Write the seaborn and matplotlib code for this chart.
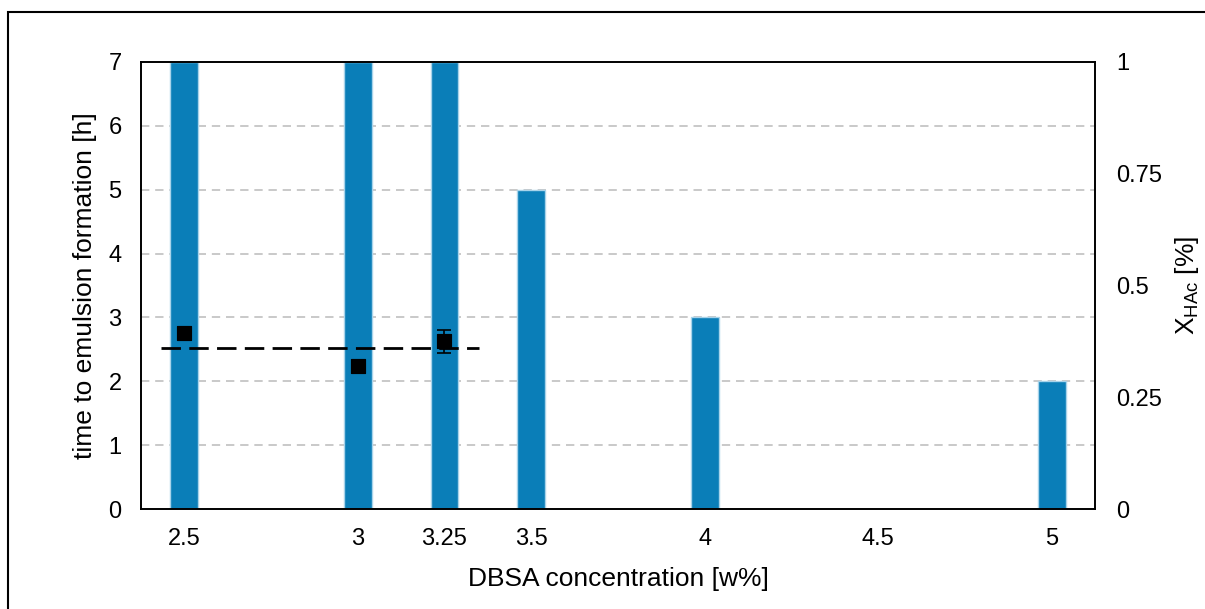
import matplotlib
matplotlib.use("Agg")
import matplotlib.pyplot as plt
import matplotlib.patches as mpatches
import seaborn as sns
import pandas as pd

# Emulsion formation time per DBSA concentration
concentration = [2.5, 3.0, 3.25, 3.5, 4.0, 5.0]
time_to_emulsion = [7, 7, 7, 5, 3, 2]

# Acetic acid conversion measured at the lower concentrations
conv_conc = [2.5, 3.0, 3.25]
conv_value = [0.393, 0.321, 0.375]
conv_err = [0.0, 0.0, 0.025]

# Mean conversion drawn as a reference line
mean_conv = 0.36
mean_span = [2.435, 3.35]

x_ticks = [2.5, 3, 3.25, 3.5, 4, 4.5, 5]
x_ticklabels = ["2.5", "3", "3.25", "3.5", "4", "4.5", "5"]
left_ticks = [0, 1, 2, 3, 4, 5, 6, 7]
right_ticks = [0, 0.25, 0.5, 0.75, 1]
right_ticklabels = ["0", "0.25", "0.5", "0.75", "1"]

sns.set_theme(style="white")
plt.rcParams["font.family"] = ["Liberation Sans", "DejaVu Sans"]

bar_color = "#0A7EB8"

fig = plt.figure(figsize=(12.05, 6.09), dpi=100)
ax = fig.add_axes([141 / 1205, 1 - 509 / 609, (1095 - 141) / 1205, (509 - 62) / 609])

df = pd.DataFrame({"conc": concentration, "time": time_to_emulsion})
sns.barplot(data=df, x="conc", y="time", native_scale=True, width=0.32,
            color=bar_color, saturation=1, edgecolor="#a8d3ea", linewidth=1,
            ax=ax, zorder=2)

ax.set_xlim(2.376, 5.124)
ax.set_ylim(0, 7)
ax.set_xticks(x_ticks)
ax.set_xticklabels(x_ticklabels)
ax.set_yticks(left_ticks)
ax.tick_params(axis="both", length=0, labelsize=17, colors="black")
ax.tick_params(axis="x", pad=14)
ax.tick_params(axis="y", pad=14)
for y in left_ticks[1:-1]:
    ax.axhline(y, color="#c0c0c0", lw=1.2, dashes=(5, 3.5), zorder=1)
ax.set_xlabel("DBSA concentration [w%]", fontsize=19, color="black", labelpad=12)
ax.set_ylabel("time to emulsion formation [h]", fontsize=19, color="black", labelpad=8)
for s in ax.spines.values():
    s.set_visible(True)
    s.set_color("black")
    s.set_linewidth(1.4)

ax2 = ax.twinx()
ax2.set_ylim(0, 1)
ax2.set_yticks(right_ticks)
ax2.set_yticklabels(right_ticklabels)
ax2.tick_params(axis="y", length=0, labelsize=17, colors="black", pad=15)
for s in ax2.spines.values():
    s.set_visible(False)

ax2.plot(mean_span, [mean_conv, mean_conv], color="black", lw=2,
         dashes=(7, 3), zorder=3)
ax2.errorbar(conv_conc, conv_value, yerr=conv_err, fmt="none", ecolor="black",
             elinewidth=1.2, capsize=5, capthick=1.2, zorder=4)
conv_df = pd.DataFrame({"conc": conv_conc, "conv": conv_value})
sns.scatterplot(data=conv_df, x="conc", y="conv", marker="s", s=110,
                color="black", edgecolor="black", ax=ax2, zorder=5)
ax2.set_xlim(2.376, 5.124)
ax2.set_xlabel("")
ax2.set_ylabel(r"X$_{\mathregular{HAc}}$ [%]", fontsize=19, color="black", labelpad=8)

# Outer frame of the figure
fig.patches.append(mpatches.Rectangle((8 / 1205, -0.1), 1.2, 1.1 - 12 / 609,
                                      transform=fig.transFigure, fill=False,
                                      edgecolor="black", lw=1.5))

fig.savefig("out.png", dpi=100)
